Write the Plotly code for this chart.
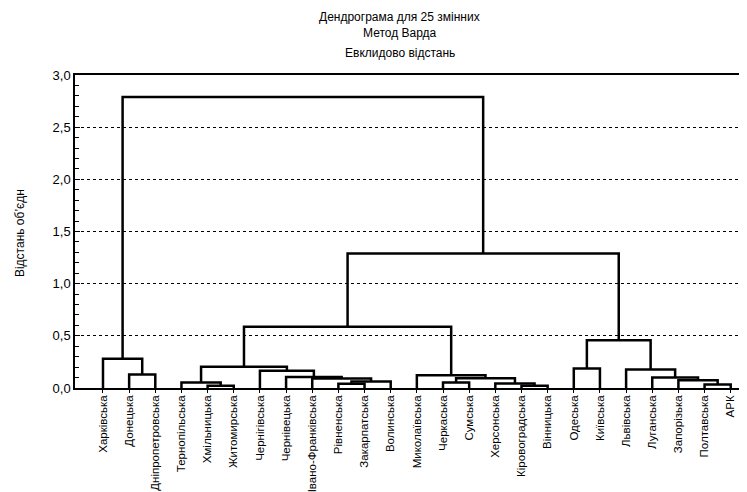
import plotly.graph_objects as go

leaf_labels = ["Харківська", "Донецька", "Дніпропетровська", "Тернопільська", "Хмільницька",
               "Житомирська", "Чернігівська", "Чернівецька", "Івано-Франківська", "Рівненська",
               "Закарпатська", "Волинська", "Миколаївська", "Черкаська", "Сумська",
               "Херсонська", "Кіровоградська", "Вінницька", "Одеська", "Київська",
               "Львівська", "Луганська", "Запорізька", "Полтавська", "АРК"]

# linkage: cluster index 25+k is created by merge k of merge_a[k] and merge_b[k] at merge_h[k]
merge_a = [4, 16, 23, 9, 15, 3, 13, 28, 22, 8, 31, 21, 7, 1, 12, 6, 20, 18, 30, 0, 42, 43, 46, 44]
merge_b = [5, 17, 24, 10, 26, 25, 14, 11, 27, 32, 29, 33, 34, 2, 35, 37, 36, 19, 40, 38, 41, 39, 45, 47]
merge_h = [0.021, 0.021, 0.034, 0.040, 0.043, 0.053, 0.053, 0.062, 0.075, 0.090, 0.094, 0.100,
           0.105, 0.130, 0.123, 0.165, 0.177, 0.187, 0.203, 0.280, 0.458, 0.587, 1.29, 2.79]

y_tick_vals = [0.0, 0.5, 1.0, 1.5, 2.0, 2.5, 3.0]
y_tick_text = ["0,0", "0,5", "1,0", "1,5", "2,0", "2,5", "3,0"]

n = len(leaf_labels)
pos = {i: float(i) for i in range(n)}
hgt = {i: 0.0 for i in range(n)}
xs, ys = [], []
for k, (a, b, h) in enumerate(zip(merge_a, merge_b, merge_h)):
    xs += [pos[a], pos[a], pos[b], pos[b], None]
    ys += [hgt[a], h, h, hgt[b], None]
    pos[n + k] = (pos[a] + pos[b]) / 2
    hgt[n + k] = h

FONT = "Liberation Sans, Arial, sans-serif"

fig = go.Figure()
fig.add_trace(go.Scatter(x=xs, y=ys, mode="lines", line=dict(color="black", width=2.5),
                         hoverinfo="skip", showlegend=False))

fig.update_layout(
    width=747, height=492,
    margin=dict(l=67, r=1, t=67, b=112),
    paper_bgcolor="white", plot_bgcolor="white",
    font=dict(family=FONT, size=12, color="black"),
    xaxis=dict(range=[-1.07, 24.89], tickvals=list(range(n)), ticktext=leaf_labels,
               tickangle=-90, ticks="outside", ticklen=3, tickcolor="black",
               ticklabelstandoff=-2,
               showline=True, linecolor="black", linewidth=1.5, mirror=True,
               showgrid=False, zeroline=False, automargin=False,
               tickfont=dict(family=FONT, size=11.5, color="black")),
    yaxis=dict(range=[0, 3.0], tickvals=y_tick_vals, ticktext=y_tick_text,
               ticks="inside", ticklen=5, tickcolor="black",
               minor=dict(dtick=0.1, ticks="inside", ticklen=4, tickcolor="black", showgrid=False),
               showline=True, linecolor="black", linewidth=1.5, mirror="allticks",
               showgrid=True, gridcolor="black", griddash="dot", gridwidth=1,
               zeroline=False, automargin=False,
               tickfont=dict(family=FONT, size=13, color="black")),
)

titles = [("Дендрограма для 25 змінних", 1.186), ("Метод Варда", 1.135), ("Евклидово відстань", 1.07)]
for txt, yy in titles:
    fig.add_annotation(text=txt, xref="paper", yref="paper", x=0.4786, y=yy,
                       showarrow=False, xanchor="center", yanchor="middle",
                       font=dict(family=FONT, size=12, color="black"))
fig.add_annotation(text="Відстань об’єдн", xref="paper", yref="paper", x=-0.081, y=0.495,
                   showarrow=False, textangle=-90, xanchor="center", yanchor="middle",
                   font=dict(family=FONT, size=12, color="black"))

fig.write_html("out.html")
